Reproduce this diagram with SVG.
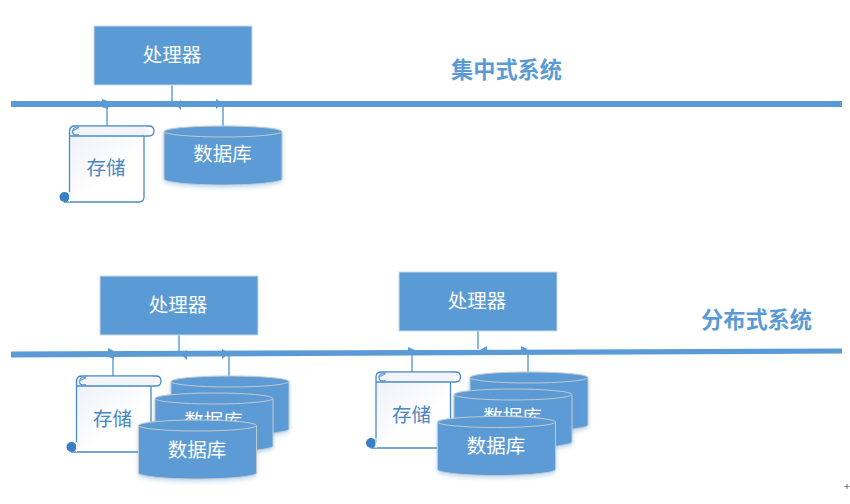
<svg xmlns="http://www.w3.org/2000/svg" width="850" height="504" viewBox="0 0 850 504">
<style>
text{font-family:"Noto Sans CJK SC","Liberation Sans",sans-serif;text-anchor:middle}
.lbl{font-size:19.500px;fill:#fff}
.store{font-size:19.500px;fill:#4a86c0}
.title{font-size:22.200px;font-weight:700;fill:#5b9bd5}
.proc{fill:#5b9bd5;stroke:#c9d9ea;stroke-width:1}
.wire{fill:none;stroke:#5b9bd5;stroke-width:1.400}
.bus{fill:#5b9bd5}
.tip{fill:#5b9bd5}
</style>
<defs>
<filter id="sh" x="-10%" y="-10%" width="120%" height="130%"><feDropShadow dx="0" dy="2" stdDeviation="2" flood-color="#5b9bd5" flood-opacity="0.4"/></filter>
<linearGradient id="pg" x1="0" y1="0" x2="1" y2="1"><stop offset="0" stop-color="#eceff8"/><stop offset="0.6" stop-color="#fff"/></linearGradient>
<g id="cyl" filter="url(#sh)">
<path d="M0 5.500V53C0 56 26 59 59 59S118 56 118 53V5.500Z" fill="#5b9bd5" stroke="#c4c9cc" stroke-width="1"/>
<ellipse cx="59" cy="5.500" rx="59" ry="5.500" fill="#5b9bd5" stroke="#c4c9cc" stroke-width="1"/>
</g>
<g id="scroll">
<path d="M1.500 71V5Q1.500 0 7 0H81Q86 0 86 5T81 10H76V71Q76 76 71 76H-4" fill="url(#pg)" stroke="#4a8ac6" stroke-width="1.300"/>
<rect x="8" y="0.700" width="73" height="8.600" rx="4.300" fill="#f2f4fb"/>
<path d="M1.500 10H76" fill="none" stroke="#4a8ac6" stroke-width="1.300"/>
<path d="M11 1.800A4.200 4.200 0 1 0 11 8.800H7A2.500 2.500 0 0 1 7 3.800Z" fill="#b9c9de" stroke="#4a8ac6" stroke-width="0.800"/>
<circle cx="-3.500" cy="71" r="5" fill="#3a7fc4"/>
<path d="M1.500 66V76" stroke="#fff" stroke-width="1"/>
</g>
</defs>

<g id="connectors">
<path class="bus" d="M11 101H842V107H11Z"/>
<path class="bus" d="M11 351.500L842 348.500V353.500L11 357.500Z"/>
<path class="wire" d="M107 126V103M172 84V101M223 126V107"/>
<path class="wire" d="M113 376V354M179 334V352M229 376V356"/>
<path class="wire" d="M412 372V350M478 331V349M528 372V353"/>
<path class="tip" d="M102 99 108 101 108 109 102 107ZM181 100 175 104 181 110ZM216 99 223 103 216 109Z"/>
<path class="tip" d="M108 348 114 351 114 359 108 357ZM187 350 181 354 187 360ZM222 349 229 353 222 359Z"/>
<path class="tip" d="M408 347 415 350 415 355 408 352ZM487 346 480 350 487 353ZM521 346 528 349 521 352Z"/>
</g>

<g id="proc-a"><rect class="proc" x="94" y="26" width="158" height="59"/><text class="lbl" x="172" y="62">处理器</text></g>
<g id="title-a"><text class="title" x="506.500" y="78">集中式系统</text></g>
<g id="store-a"><use href="#scroll" x="68" y="126"/><text class="store" x="106" y="175">存储</text></g>
<g id="db-a"><use href="#cyl" x="164" y="126"/><text class="lbl" x="222.500" y="161">数据库</text></g>

<g id="proc-b"><rect class="proc" x="100" y="276" width="158" height="59"/><text class="lbl" x="178" y="312">处理器</text></g>
<g id="title-b"><text class="title" x="756.500" y="328">分布式系统</text></g>
<g id="store-b"><use href="#scroll" x="75" y="376"/><text class="store" x="112.500" y="426">存储</text></g>
<g id="db-b1"><use href="#cyl" x="171" y="376"/></g>
<g id="db-b2"><use href="#cyl" x="155" y="393"/><text class="lbl" x="213.500" y="428">数据库</text></g>
<g id="db-b3"><use href="#cyl" x="138.500" y="420"/><text class="lbl" x="197" y="457">数据库</text></g>

<g id="proc-c"><rect class="proc" x="399" y="272" width="158" height="59"/><text class="lbl" x="477" y="308">处理器</text></g>
<g id="store-c"><use href="#scroll" x="374.500" y="372"/><text class="store" x="411.500" y="422">存储</text></g>
<g id="db-c1"><use href="#cyl" x="470" y="372"/></g>
<g id="db-c2"><use href="#cyl" x="454" y="389"/><text class="lbl" x="512.500" y="424">数据库</text></g>
<g id="db-c3"><use href="#cyl" x="437.500" y="416.500"/><text class="lbl" x="496" y="453">数据库</text></g>
<g id="cursor"><path d="M847 484V489M844.500 486.500H849.500" stroke="#777" stroke-width="1" fill="none"/></g>
</svg>
